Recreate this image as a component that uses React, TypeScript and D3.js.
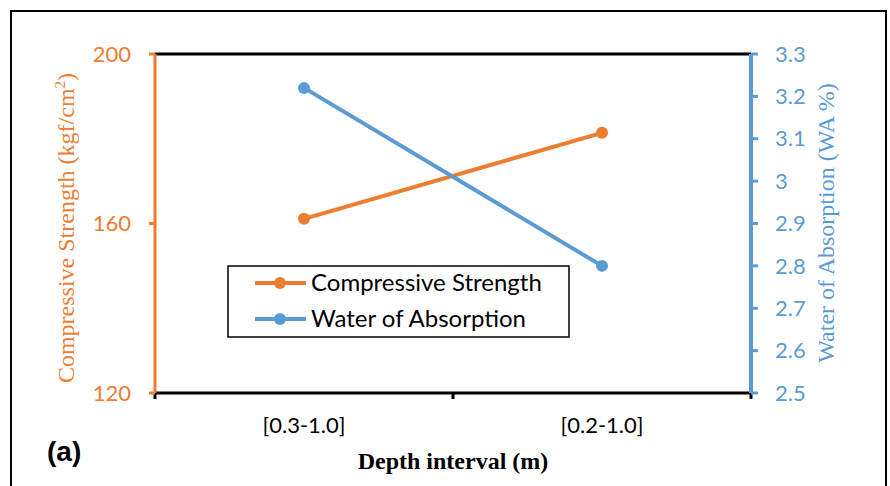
import React from 'react';
import * as d3 from 'd3';

const categories = ['[0.3-1.0]', '[0.2-1.0]'];
const compressive = [161.1, 181.4];
const absorption = [3.22, 2.8];
const leftTicks = [120, 160, 200];
const rightTicks = [2.5, 2.6, 2.7, 2.8, 2.9, 3.0, 3.1, 3.2, 3.3];
const seriesNames = ['Compressive Strength', 'Water of Absorption'];

const ORANGE = '#ED7D31';
const BLUE = '#5B9BD5';

const App = () => {
  const width = 890;
  const height = 486;
  const margin = { top: 54, right: 139, bottom: 93, left: 155 };

  const xScale = d3
    .scaleBand()
    .range([margin.left, width - margin.right])
    .domain(categories);

  const yLeft = d3
    .scaleLinear()
    .range([height - margin.bottom, margin.top])
    .domain([120, 200]);

  const yRight = d3
    .scaleLinear()
    .range([height - margin.bottom, margin.top])
    .domain([2.5, 3.3]);

  const cx = (c: string) => (xScale(c) as number) + xScale.bandwidth() / 2;

  const line = d3
    .line<[number, number]>()
    .x(d => d[0])
    .y(d => d[1]);

  const csPoints: [number, number][] = categories.map((c, i) => [cx(c), yLeft(compressive[i])]);
  const waPoints: [number, number][] = categories.map((c, i) => [cx(c), yRight(absorption[i])]);

  const x0 = margin.left;
  const x1 = width - margin.right;
  const yTop = margin.top;
  const yBot = height - margin.bottom;
  const boundaries = [x0, ...categories.slice(1).map(c => xScale(c) as number), x1];

  const legendX = 228;
  const legendY = 266;
  const legendRows = [
    { name: seriesNames[0], color: ORANGE },
    { name: seriesNames[1], color: BLUE }
  ];

  return (
    <svg
      width={width}
      height={height}
      viewBox={`0 0 ${width} ${height}`}
      style={{ position: 'absolute', left: 0, top: 0, background: '#fff' }}
    >
      <rect x={11} y={11} width={875} height={490} fill='#fff' stroke='#000' strokeWidth={2} />

      {/* top border and x axis */}
      <line x1={x0} x2={x1} y1={yTop} y2={yTop} stroke='#000' strokeWidth={3} />
      <line x1={x0} x2={x1} y1={yBot} y2={yBot} stroke='#000' strokeWidth={3} />
      {boundaries.map((b, i) => (
        <line key={`xt-${i}`} x1={b} x2={b} y1={yBot} y2={yBot + 6} stroke='#000' strokeWidth={3} />
      ))}
      {categories.map(c => (
        <text
          key={c}
          x={cx(c)}
          y={433}
          textAnchor='middle'
          fontFamily='Lato, sans-serif'
          fontSize={22}
          fill='#000'
        >
          {c}
        </text>
      ))}
      <text
        x={453}
        y={469}
        textAnchor='middle'
        fontFamily='"Liberation Serif", serif'
        fontWeight='bold'
        fontSize={24}
        fill='#000'
      >
        Depth interval (m)
      </text>

      {/* left axis */}
      <line x1={x0} x2={x0} y1={yTop} y2={yBot} stroke={ORANGE} strokeWidth={3} />
      {leftTicks.map(t => (
        <g key={`lt-${t}`}>
          <line x1={x0 - 6} x2={x0} y1={yLeft(t)} y2={yLeft(t)} stroke={ORANGE} strokeWidth={3} />
          <text
            x={131}
            y={yLeft(t)}
            dy='0.35em'
            textAnchor='end'
            fontFamily='Lato, sans-serif'
            fontSize={22}
            fill={ORANGE}
          >
            {t}
          </text>
        </g>
      ))}
      <text
        transform={`translate(74, 228) rotate(-90)`}
        textAnchor='middle'
        fontFamily='"Liberation Serif", serif'
        fontSize={24}
        fill={ORANGE}
      >
        Compressive Strength (kgf/cm
        <tspan dy={-9} fontSize={15}>2</tspan>
        <tspan dy={9}>)</tspan>
      </text>

      {/* right axis */}
      <line x1={x1} x2={x1} y1={yTop} y2={yBot} stroke={BLUE} strokeWidth={4} />
      {rightTicks.map(t => (
        <g key={`rt-${t}`}>
          <line x1={x1} x2={x1 + 7} y1={yRight(t)} y2={yRight(t)} stroke={BLUE} strokeWidth={3} />
          <text
            x={775}
            y={yRight(t)}
            dy='0.35em'
            textAnchor='start'
            fontFamily='Lato, sans-serif'
            fontSize={22}
            fill={BLUE}
          >
            {d3.format('~g')(t)}
          </text>
        </g>
      ))}
      <text
        transform={`translate(834, 223) rotate(-90)`}
        textAnchor='middle'
        fontFamily='"Liberation Serif", serif'
        fontSize={24}
        fill={BLUE}
      >
        Water of Absorption (WA %)
      </text>

      {/* series */}
      <path d={line(csPoints) || ''} fill='none' stroke={ORANGE} strokeWidth={4} />
      {csPoints.map((p, i) => (
        <circle key={`cs-${i}`} cx={p[0]} cy={p[1]} r={6} fill={ORANGE} />
      ))}
      <path d={line(waPoints) || ''} fill='none' stroke={BLUE} strokeWidth={4} />
      {waPoints.map((p, i) => (
        <circle key={`wa-${i}`} cx={p[0]} cy={p[1]} r={6} fill={BLUE} />
      ))}

      {/* legend */}
      <rect x={legendX} y={legendY} width={341} height={71} fill='#fff' stroke='#000' strokeWidth={1.5} />
      {legendRows.map((r, i) => {
        const ly = legendY + 17 + i * 36;
        return (
          <g key={r.name}>
            <line x1={legendX + 27} x2={legendX + 78} y1={ly} y2={ly} stroke={r.color} strokeWidth={4} />
            <circle cx={legendX + 52} cy={ly} r={6} fill={r.color} />
            <text
              x={legendX + 83}
              y={ly}
              dy='0.35em'
              fontFamily='Lato, sans-serif'
              fontSize={24}
              fill='#000'
            >
              {r.name}
            </text>
          </g>
        );
      })}

      <text
        x={47}
        y={461}
        fontFamily='"Liberation Sans", Arial, sans-serif'
        fontWeight='bold'
        fontSize={28}
        fill='#000'
      >
        (a)
      </text>
    </svg>
  );
};

export default App;
